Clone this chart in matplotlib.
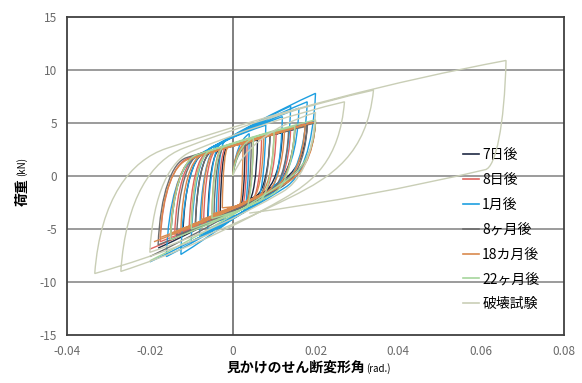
import numpy as np
import matplotlib.pyplot as plt
from matplotlib.path import Path
from matplotlib.patches import PathPatch
from matplotlib.lines import Line2D

plt.rcParams['font.family'] = ['Noto Sans CJK JP', 'DejaVu Sans']
plt.rcParams['axes.unicode_minus'] = False

# peak drift (rad.) and peak load (kN) of each cycle
d7_pos = [0.003, 0.006, 0.009, 0.012, 0.015, 0.018]
p7_pos = [3.0, 3.4, 3.8, 4.1, 4.4, 4.8]
d7_neg = [-0.003, -0.006, -0.009, -0.012, -0.015, -0.018]
p7_neg = [-3.4, -4.0, -4.8, -5.4, -6.0, -6.8]

d8_pos = [0.0035, 0.007, 0.0105, 0.014, 0.0175, 0.02]
p8_pos = [3.3, 3.7, 4.0, 4.4, 4.8, 5.2]
d8_neg = [-0.0035, -0.007, -0.0105, -0.014, -0.0175, -0.02]
p8_neg = [-3.5, -4.2, -4.9, -5.5, -6.2, -6.9]

d1m_pos = [0.004, 0.008, 0.012, 0.014, 0.016, 0.018, 0.02]
p1m_pos = [4.0, 4.8, 5.6, 6.6, 6.4, 7.0, 7.8]
d1m_neg = [-0.004, -0.006, -0.008, -0.010, -0.0125, -0.016, -0.02]
p1m_neg = [-4.3, -5.0, -5.6, -6.2, -7.4, -7.6, -8.1]

d8m_pos = [0.0045, 0.009, 0.0135, 0.018, 0.02]
p8m_pos = [3.2, 3.8, 4.3, 4.7, 5.0]
d8m_neg = [-0.0045, -0.009, -0.0135, -0.018, -0.02]
p8m_neg = [-3.6, -4.6, -5.6, -6.5, -7.6]

d18m_pos = [0.0025, 0.005, 0.0075, 0.01, 0.0125, 0.015, 0.0175, 0.02]
p18m_pos = [2.9, 3.3, 3.6, 3.9, 4.2, 4.5, 4.8, 5.1]
d18m_neg = [-0.0025, -0.005, -0.0075, -0.01, -0.0125, -0.015, -0.0175, -0.019]
p18m_neg = [-3.0, -3.6, -4.1, -4.6, -5.0, -5.4, -5.8, -6.2]

d22m_pos = [0.005, 0.01, 0.015, 0.02]
p22m_pos = [3.6, 4.2, 4.7, 5.3]
d22m_neg = [-0.005, -0.01, -0.015, -0.02]
p22m_neg = [-4.0, -5.0, -6.0, -8.0]

# load at zero drift on the loading / unloading branches
branch_up = [2.8, 2.9, 3.6, 2.9, 2.8, 3.0]
branch_dn = [-3.0, -3.1, -3.8, -3.2, -2.9, -3.4]

# failure test: (knee, peak) pairs after the first peak
fail_first = (0.02, 6.0)
fail_knee = [(0.012, -1.5), (-0.010, 2.3), (0.012, -2.2), (-0.012, 2.6),
             (0.014, -2.0), (-0.016, 2.6), (0.061, 0.6)]
fail_peak = [(-0.02, -7.2), (0.027, 7.0), (-0.027, -9.0), (0.034, 8.1),
             (-0.0333, -9.2), (0.066, 10.9), (0.004, -3.5)]

labels = ['7日後', '8日後', '1月後', '8ヶ月後', '18カ月後', '22ヶ月後', '破壊試験']
colors = ['#1f2a44', '#e0655f', '#1e9fe0', '#6e6e6e', '#d98a4e', '#a6d69c', '#c9ceb6']


def half_cycle(verts, codes, start, knee, end, bulge=0.08):
    xs, ys = start
    xk, yk = knee
    xe, ye = end
    sgn = 1 if xe > xs else -1
    ctrl = ((xk + xe) / 2, (yk + ye) / 2 + sgn * bulge * abs(ye - yk))
    dx, dy = ctrl[0] - xk, ctrl[1] - yk
    s = 0.5 * abs(xk - xs) / max(abs(dx), 1e-9)
    c1 = (xs + 0.08 * (xk - xs), ys + 0.6 * (yk - ys))
    c2 = (xk - dx * s, yk - dy * s)
    verts += [c1, c2, (xk, yk), ctrl, (xe, ye)]
    codes += [Path.CURVE4] * 3 + [Path.CURVE3] * 2


def knee_on(start, end, c0, frac=0.18):
    xk = start[0] + frac * (end[0] - start[0])
    slope = (end[1] - c0) / end[0]
    return (xk, c0 + slope * xk)


def series_path(dpos, ppos, dneg, pneg, c_up, c_dn):
    verts = [(0, 0), (0.2 * dpos[0], 0.8 * ppos[0]), (dpos[0], ppos[0])]
    codes = [Path.MOVETO, Path.CURVE3, Path.CURVE3]
    prev = (dpos[0], ppos[0])
    for i in range(len(dpos)):
        nxt = (dneg[i], pneg[i])
        half_cycle(verts, codes, prev, knee_on(prev, nxt, c_dn), nxt)
        prev = nxt
        if i + 1 < len(dpos):
            nxt = (dpos[i + 1], ppos[i + 1])
            half_cycle(verts, codes, prev, knee_on(prev, nxt, c_up), nxt)
            prev = nxt
    return Path(verts, codes)


fig = plt.figure(figsize=(5.82, 3.83), dpi=100)
ax = fig.add_axes([0.1151, 0.1253, 0.854, 0.8303])

groups = [(d7_pos, p7_pos, d7_neg, p7_neg), (d8_pos, p8_pos, d8_neg, p8_neg),
          (d1m_pos, p1m_pos, d1m_neg, p1m_neg), (d8m_pos, p8m_pos, d8m_neg, p8m_neg),
          (d18m_pos, p18m_pos, d18m_neg, p18m_neg), (d22m_pos, p22m_pos, d22m_neg, p22m_neg)]
for k, g in enumerate(groups):
    path = series_path(*g, branch_up[k], branch_dn[k])
    ax.add_patch(PathPatch(path, fill=False, edgecolor=colors[k], lw=1.0, zorder=3 + k))

# failure test loops
verts = [(0, 0), (0.004, 4.0), fail_first]
codes = [Path.MOVETO, Path.CURVE3, Path.CURVE3]
prev = fail_first
for kn, pk in zip(fail_knee, fail_peak):
    half_cycle(verts, codes, prev, kn, pk, bulge=0.14)
    prev = pk
ax.add_patch(PathPatch(Path(verts, codes), fill=False, edgecolor=colors[6], lw=1.0, zorder=10))

ax.set_xlim(-0.04, 0.08)
ax.set_ylim(-15, 15)
ax.set_xticks(np.arange(-0.04, 0.081, 0.02))
ax.set_xticklabels(['-0.04', '-0.02', '0', '0.02', '0.04', '0.06', '0.08'])
ax.set_yticks(np.arange(-15, 16, 5))
ax.set_yticklabels(['-15', '-10', '-5', '0', '5', '10', '15'])
ax.tick_params(length=0, labelsize=8.5, labelcolor='#6a6a6a', pad=7)
for y in [-10, -5, 0, 5, 10]:
    ax.axhline(y, color='#8a8a8a', lw=1.2, zorder=1)
ax.axvline(0, color='#6a6a6a', lw=1.2, zorder=1)
for sp in ax.spines.values():
    sp.set_color('#404040')
    sp.set_linewidth(1.3)

handles = [Line2D([], [], color=c, lw=1.2) for c in colors]
ax.legend(handles, labels, loc='upper left', bbox_to_anchor=(0.785, 0.605),
          frameon=False, fontsize=10, handlelength=1.2, handletextpad=0.2,
          labelspacing=0.78, borderaxespad=0)

fig.text(0.627, 0.039, '見かけのせん断変形角', ha='right', va='center',
         fontsize=10, fontweight='bold')
fig.text(0.629, 0.039, '(rad.)', ha='left', va='center', fontsize=7)
fig.text(0.038, 0.535, '荷重', ha='center', va='top', rotation=90,
         fontsize=10, fontweight='bold')
fig.text(0.038, 0.54, '(kN)', ha='center', va='bottom', rotation=90, fontsize=7)

fig.savefig('out.png', dpi=100)
